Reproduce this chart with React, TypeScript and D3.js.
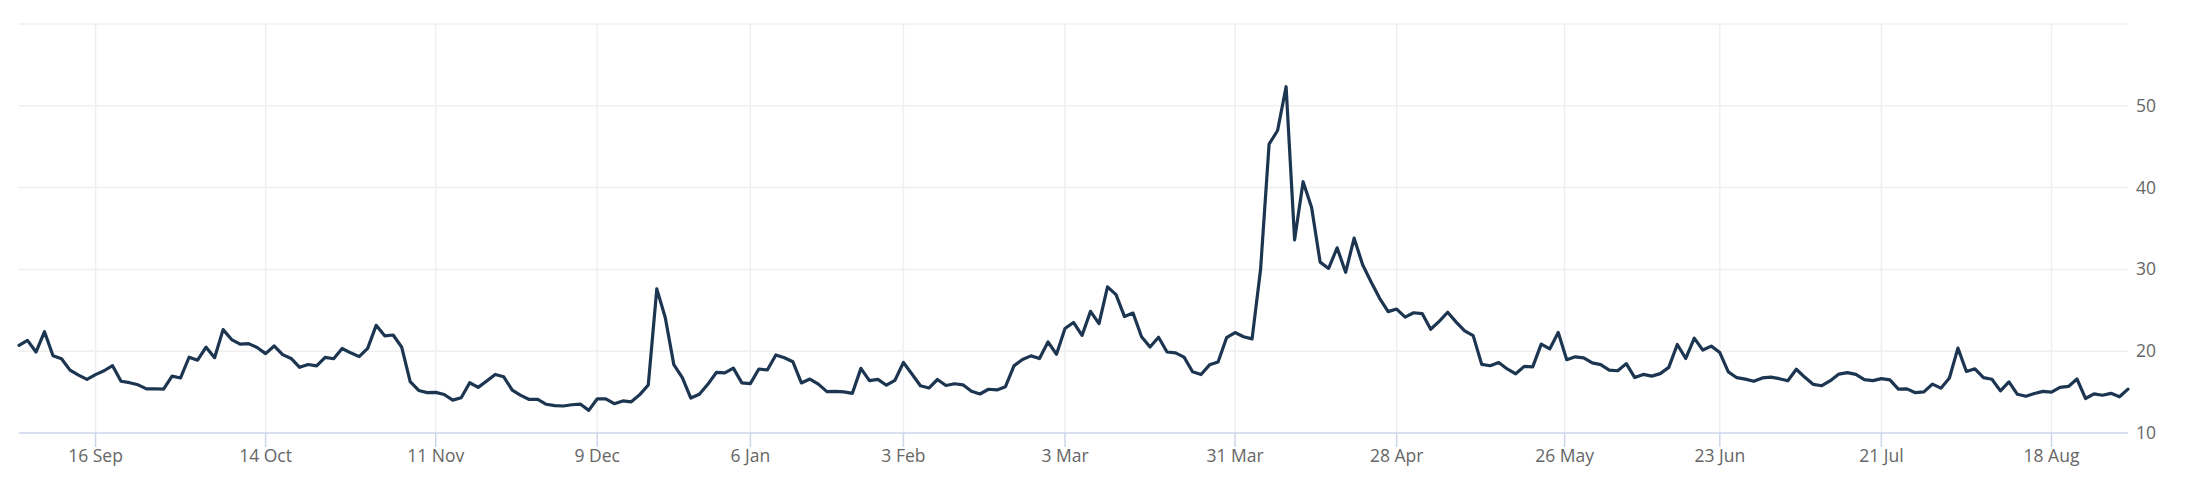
import React from "react";
import * as d3 from "d3";

// VIX daily closes, Sep 2024 - Aug 2025 (one value per trading day)
const sep2024 = [20.72, 21.32, 19.9, 22.38, 19.45, 19.08, 17.69, 17.07, 16.56, 17.14, 17.61, 18.23, 16.33, 16.15, 15.89, 15.39, 15.41, 15.37, 16.96, 16.73];
const oct2024 = [19.26, 18.9, 20.49, 19.21, 22.64, 21.42, 20.86, 20.93, 20.46, 19.7, 20.64, 19.58, 19.11, 18.03, 18.37, 18.2, 19.24, 19.08, 20.33, 19.8, 19.34, 20.35, 23.16];
const nov2024 = [21.88, 21.98, 20.49, 16.27, 15.2, 14.94, 14.97, 14.71, 14.02, 14.31, 16.14, 15.58, 16.35, 17.16, 16.87, 15.24, 14.6, 14.1, 14.1, 13.51];
const dec2024 = [13.34, 13.3, 13.45, 13.54, 12.77, 14.19, 14.18, 13.58, 13.92, 13.81, 14.69, 15.87, 27.62, 24.09, 18.36, 16.78, 14.27, 14.73, 15.95, 17.4, 17.35];
const jan2025 = [17.93, 16.13, 16.04, 17.82, 17.7, 19.54, 19.19, 18.71, 16.12, 16.6, 15.97, 15.06, 15.1, 15.02, 14.85, 17.9, 16.41, 16.56, 15.84, 16.43];
const feb2025 = [18.62, 17.21, 15.77, 15.5, 16.54, 15.81, 16.02, 15.89, 15.1, 14.77, 15.35, 15.27, 15.66, 18.21, 18.98, 19.43, 19.1, 21.13, 19.63];
const mar2025 = [22.78, 23.51, 21.93, 24.87, 23.37, 27.86, 26.92, 24.23, 24.66, 21.77, 20.51, 21.7, 19.9, 19.8, 19.28, 17.48, 17.15, 18.33, 18.69, 21.65, 22.28];
const apr2025 = [21.77, 21.51, 30.02, 45.31, 46.98, 52.33, 33.62, 40.72, 37.56, 30.89, 30.12, 32.64, 29.65, 33.82, 30.57, 28.45, 26.47, 24.84, 25.15, 24.17, 24.7];
const may2025 = [24.6, 22.68, 23.64, 24.76, 23.55, 22.48, 21.9, 18.39, 18.22, 18.62, 17.83, 17.24, 18.14, 18.09, 20.87, 20.28, 22.29, 18.96, 19.31, 19.18, 18.57];
const jun2025 = [18.36, 17.69, 17.61, 18.48, 16.77, 17.16, 16.95, 17.26, 18.02, 20.82, 19.11, 21.6, 20.14, 20.62, 19.83, 17.48, 16.76, 16.59, 16.32, 16.73];
const jul2025 = [16.83, 16.64, 16.38, 17.79, 16.81, 15.94, 15.78, 16.4, 17.2, 17.38, 17.16, 16.52, 16.41, 16.65, 16.5, 15.37, 15.39, 14.93, 15.03, 15.98, 15.48, 16.72];
const aug2025 = [20.38, 17.52, 17.85, 16.77, 16.57, 15.15, 16.25, 14.73, 14.49, 14.83, 15.09, 14.99, 15.57, 15.69, 16.6, 14.22, 14.79, 14.62, 14.85, 14.43, 15.36];

const startDate = "2024-09-03";
const endDate = "2025-08-29";
const holidays = ["2024-11-28", "2024-12-25", "2025-01-01", "2025-01-09", "2025-01-20", "2025-02-17", "2025-04-18", "2025-05-26", "2025-06-19", "2025-07-04"];
const tickDates = ["2024-09-16", "2024-10-14", "2024-11-11", "2024-12-09", "2025-01-06", "2025-02-03", "2025-03-03", "2025-03-31", "2025-04-28", "2025-05-26", "2025-06-23", "2025-07-21", "2025-08-18"];
const yTicks = [10, 20, 30, 40, 50, 60];
const yLabels = [10, 20, 30, 40, 50];

const values = [...sep2024, ...oct2024, ...nov2024, ...dec2024, ...jan2025, ...feb2025, ...mar2025, ...apr2025, ...may2025, ...jun2025, ...jul2025, ...aug2025];

const parse = d3.utcParse("%Y-%m-%d");
const fmtKey = d3.utcFormat("%Y-%m-%d");
const holidaySet = new Set(holidays);
const tradingDays: Date[] = d3.utcDay
  .range(parse(startDate)!, d3.utcDay.offset(parse(endDate)!, 1))
  .filter((d) => d.getUTCDay() !== 0 && d.getUTCDay() !== 6 && !holidaySet.has(fmtKey(d)));

const W = 2186;
const H = 494;
const left = 19;
const right = 2128;
const top = 24;
const bottom = 433;

const x = d3.scaleLinear().domain([0, tradingDays.length - 1]).range([left, right]);
const y = d3.scaleLinear().domain([10, 60]).range([bottom, top]);

function ordinalIndex(d: Date): number {
  const t = d.getTime();
  for (let i = 0; i < tradingDays.length - 1; i++) {
    const a = tradingDays[i].getTime();
    const b = tradingDays[i + 1].getTime();
    if (t >= a && t < b) return i + (t - a) / (b - a);
  }
  return tradingDays.length - 1;
}

const tickFmt = d3.utcFormat("%-d %b");

export default function App() {
  const n = Math.min(values.length, tradingDays.length);
  const pts = d3.range(n).map((i) => [x(i), y(values[i])] as [number, number]);
  const path = d3.line()(pts) || "";
  const font = "'Open Sans', 'Noto Sans', sans-serif";
  return (
    <svg width={W} height={H} style={{ position: "absolute", left: 0, top: 0, background: "#fff" }}>
      {tickDates.map((s) => {
        const xi = x(ordinalIndex(parse(s)!));
        return <line key={"vg" + s} x1={xi} x2={xi} y1={top} y2={bottom} stroke="#eceff3" strokeWidth={1.5} />;
      })}
      {yTicks.map((v) => (
        <line key={"hg" + v} x1={left} x2={right} y1={y(v)} y2={y(v)} stroke={v === 10 ? "#ccd6eb" : "#efefef"} strokeWidth={1.5} />
      ))}
      {tickDates.map((s) => {
        const xi = x(ordinalIndex(parse(s)!));
        return (
          <g key={"t" + s}>
            <line x1={xi} x2={xi} y1={bottom} y2={bottom + 14} stroke="#ccd6eb" strokeWidth={1.5} />
            <text x={xi} y={462} textAnchor="middle" fontFamily={font} fontSize={17.5} fill="#666">
              {tickFmt(parse(s)!)}
            </text>
          </g>
        );
      })}
      {yLabels.map((v) => (
        <text key={"yl" + v} x={2136} y={y(v) + 6} textAnchor="start" fontFamily={font} fontSize={17.5} fill="#666">
          {v}
        </text>
      ))}
      <path d={path} fill="none" stroke="#1c3550" strokeWidth={3.2} strokeLinejoin="round" strokeLinecap="round" />
    </svg>
  );
}
